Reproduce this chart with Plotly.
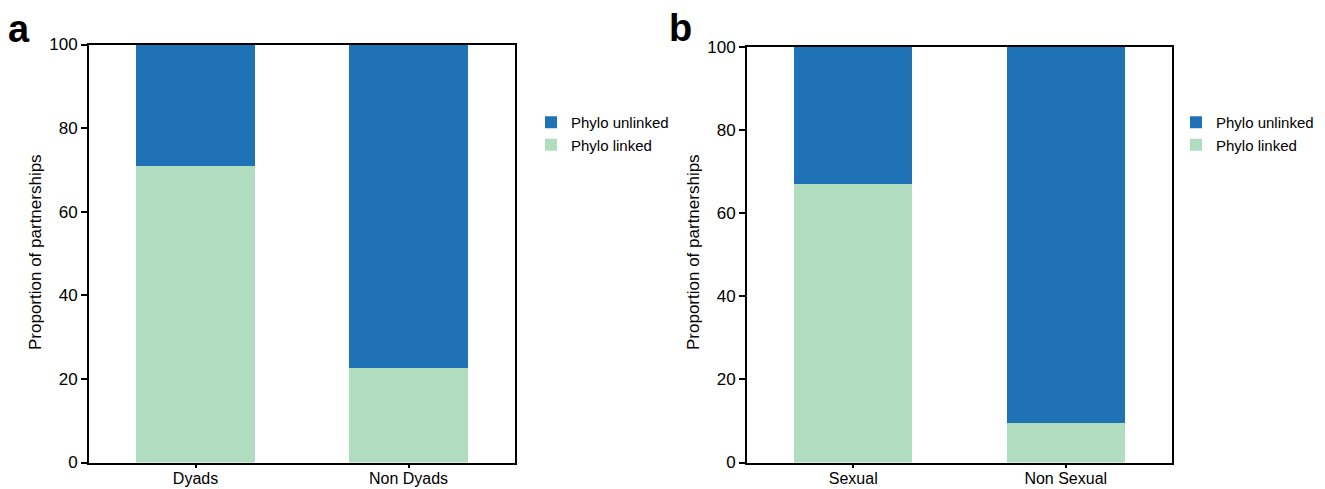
import plotly.graph_objects as go

cats_a = ["Dyads", "Non Dyads"]
linked_a = [71, 22.7]
unlinked_a = [29, 77.3]

cats_b = ["Sexual", "Non Sexual"]
linked_b = [67, 9.5]
unlinked_b = [33, 90.5]

BLUE = "#2072b6"
GREEN = "#b0dcc0"
FONT = "Liberation Sans, Arial, Helvetica, sans-serif"
W, H = 1325, 489

fig = go.Figure()
fig.add_bar(x=cats_a, y=linked_a, name="Phylo linked", marker=dict(color=GREEN, line=dict(width=0)),
            xaxis="x", yaxis="y", legend="legend", width=0.555)
fig.add_bar(x=cats_a, y=unlinked_a, name="Phylo unlinked", marker=dict(color=BLUE, line=dict(width=0)),
            xaxis="x", yaxis="y", legend="legend", width=0.555)
fig.add_bar(x=cats_b, y=linked_b, name="Phylo linked", marker=dict(color=GREEN, line=dict(width=0)),
            xaxis="x2", yaxis="y2", legend="legend2", width=0.555)
fig.add_bar(x=cats_b, y=unlinked_b, name="Phylo unlinked", marker=dict(color=BLUE, line=dict(width=0)),
            xaxis="x2", yaxis="y2", legend="legend2", width=0.555)

def xax(domain, anchor):
    return dict(domain=domain, anchor=anchor, showline=True, linecolor="black", linewidth=2,
                mirror=True, ticks="outside", ticklen=3, tickwidth=1.5, tickcolor="black",
                tickfont=dict(size=16, color="black", family=FONT), range=[-0.5, 1.5],
                ticklabelstandoff=-3,
                showgrid=False, zeroline=False, fixedrange=True, automargin=False)

def yax(domain, anchor):
    return dict(domain=domain, anchor=anchor, range=[0, 100], dtick=20, showline=True,
                linecolor="black", linewidth=2, mirror=True, ticks="outside", ticklen=6,
                tickwidth=2, tickcolor="black", showgrid=False, zeroline=False, automargin=False,
                tickfont=dict(size=17, color="black", family=FONT))

ytitle = "Proportion of partnerships"

fig.update_layout(
    width=W, height=H, barmode="stack", plot_bgcolor="white", paper_bgcolor="white",
    margin=dict(l=0, r=0, t=0, b=0),
    font=dict(family=FONT, color="black"),
    xaxis=xax([89 / W, 515 / W], "y"),
    yaxis=yax([1 - 462.5 / H, 1 - 44.5 / H], "x"),
    xaxis2=xax([747 / W, 1172 / W], "y2"),
    yaxis2=yax([1 - 462.5 / H, 1 - 47 / H], "x2"),
    legend=dict(x=531 / W, y=1 - 106 / H, xanchor="left", yanchor="top", traceorder="reversed",
                font=dict(size=15, color="black", family=FONT), bgcolor="rgba(0,0,0,0)",
                tracegroupgap=0, itemwidth=30),
    legend2=dict(x=1176 / W, y=1 - 106 / H, xanchor="left", yanchor="top", traceorder="reversed",
                 font=dict(size=15, color="black", family=FONT), bgcolor="rgba(0,0,0,0)",
                 tracegroupgap=0, itemwidth=30),
    annotations=[
        dict(text="<b>a</b>", x=6 / W, y=1 - 6 / H, xref="paper", yref="paper", xanchor="left",
             yanchor="top", showarrow=False, font=dict(size=38, color="black", family=FONT)),
        dict(text="<b>b</b>", x=667 / W, y=1 - 5 / H, xref="paper", yref="paper", xanchor="left",
             yanchor="top", showarrow=False, font=dict(size=38, color="black", family=FONT)),
        dict(text=ytitle, textangle=-90, x=35 / W, y=1 - 252 / H, xref="paper", yref="paper",
             xanchor="center", yanchor="middle", showarrow=False,
             font=dict(size=17, color="black", family=FONT)),
        dict(text=ytitle, textangle=-90, x=693 / W, y=1 - 252 / H, xref="paper", yref="paper",
             xanchor="center", yanchor="middle", showarrow=False,
             font=dict(size=17, color="black", family=FONT)),
    ],
)

fig.write_html("out.html")
